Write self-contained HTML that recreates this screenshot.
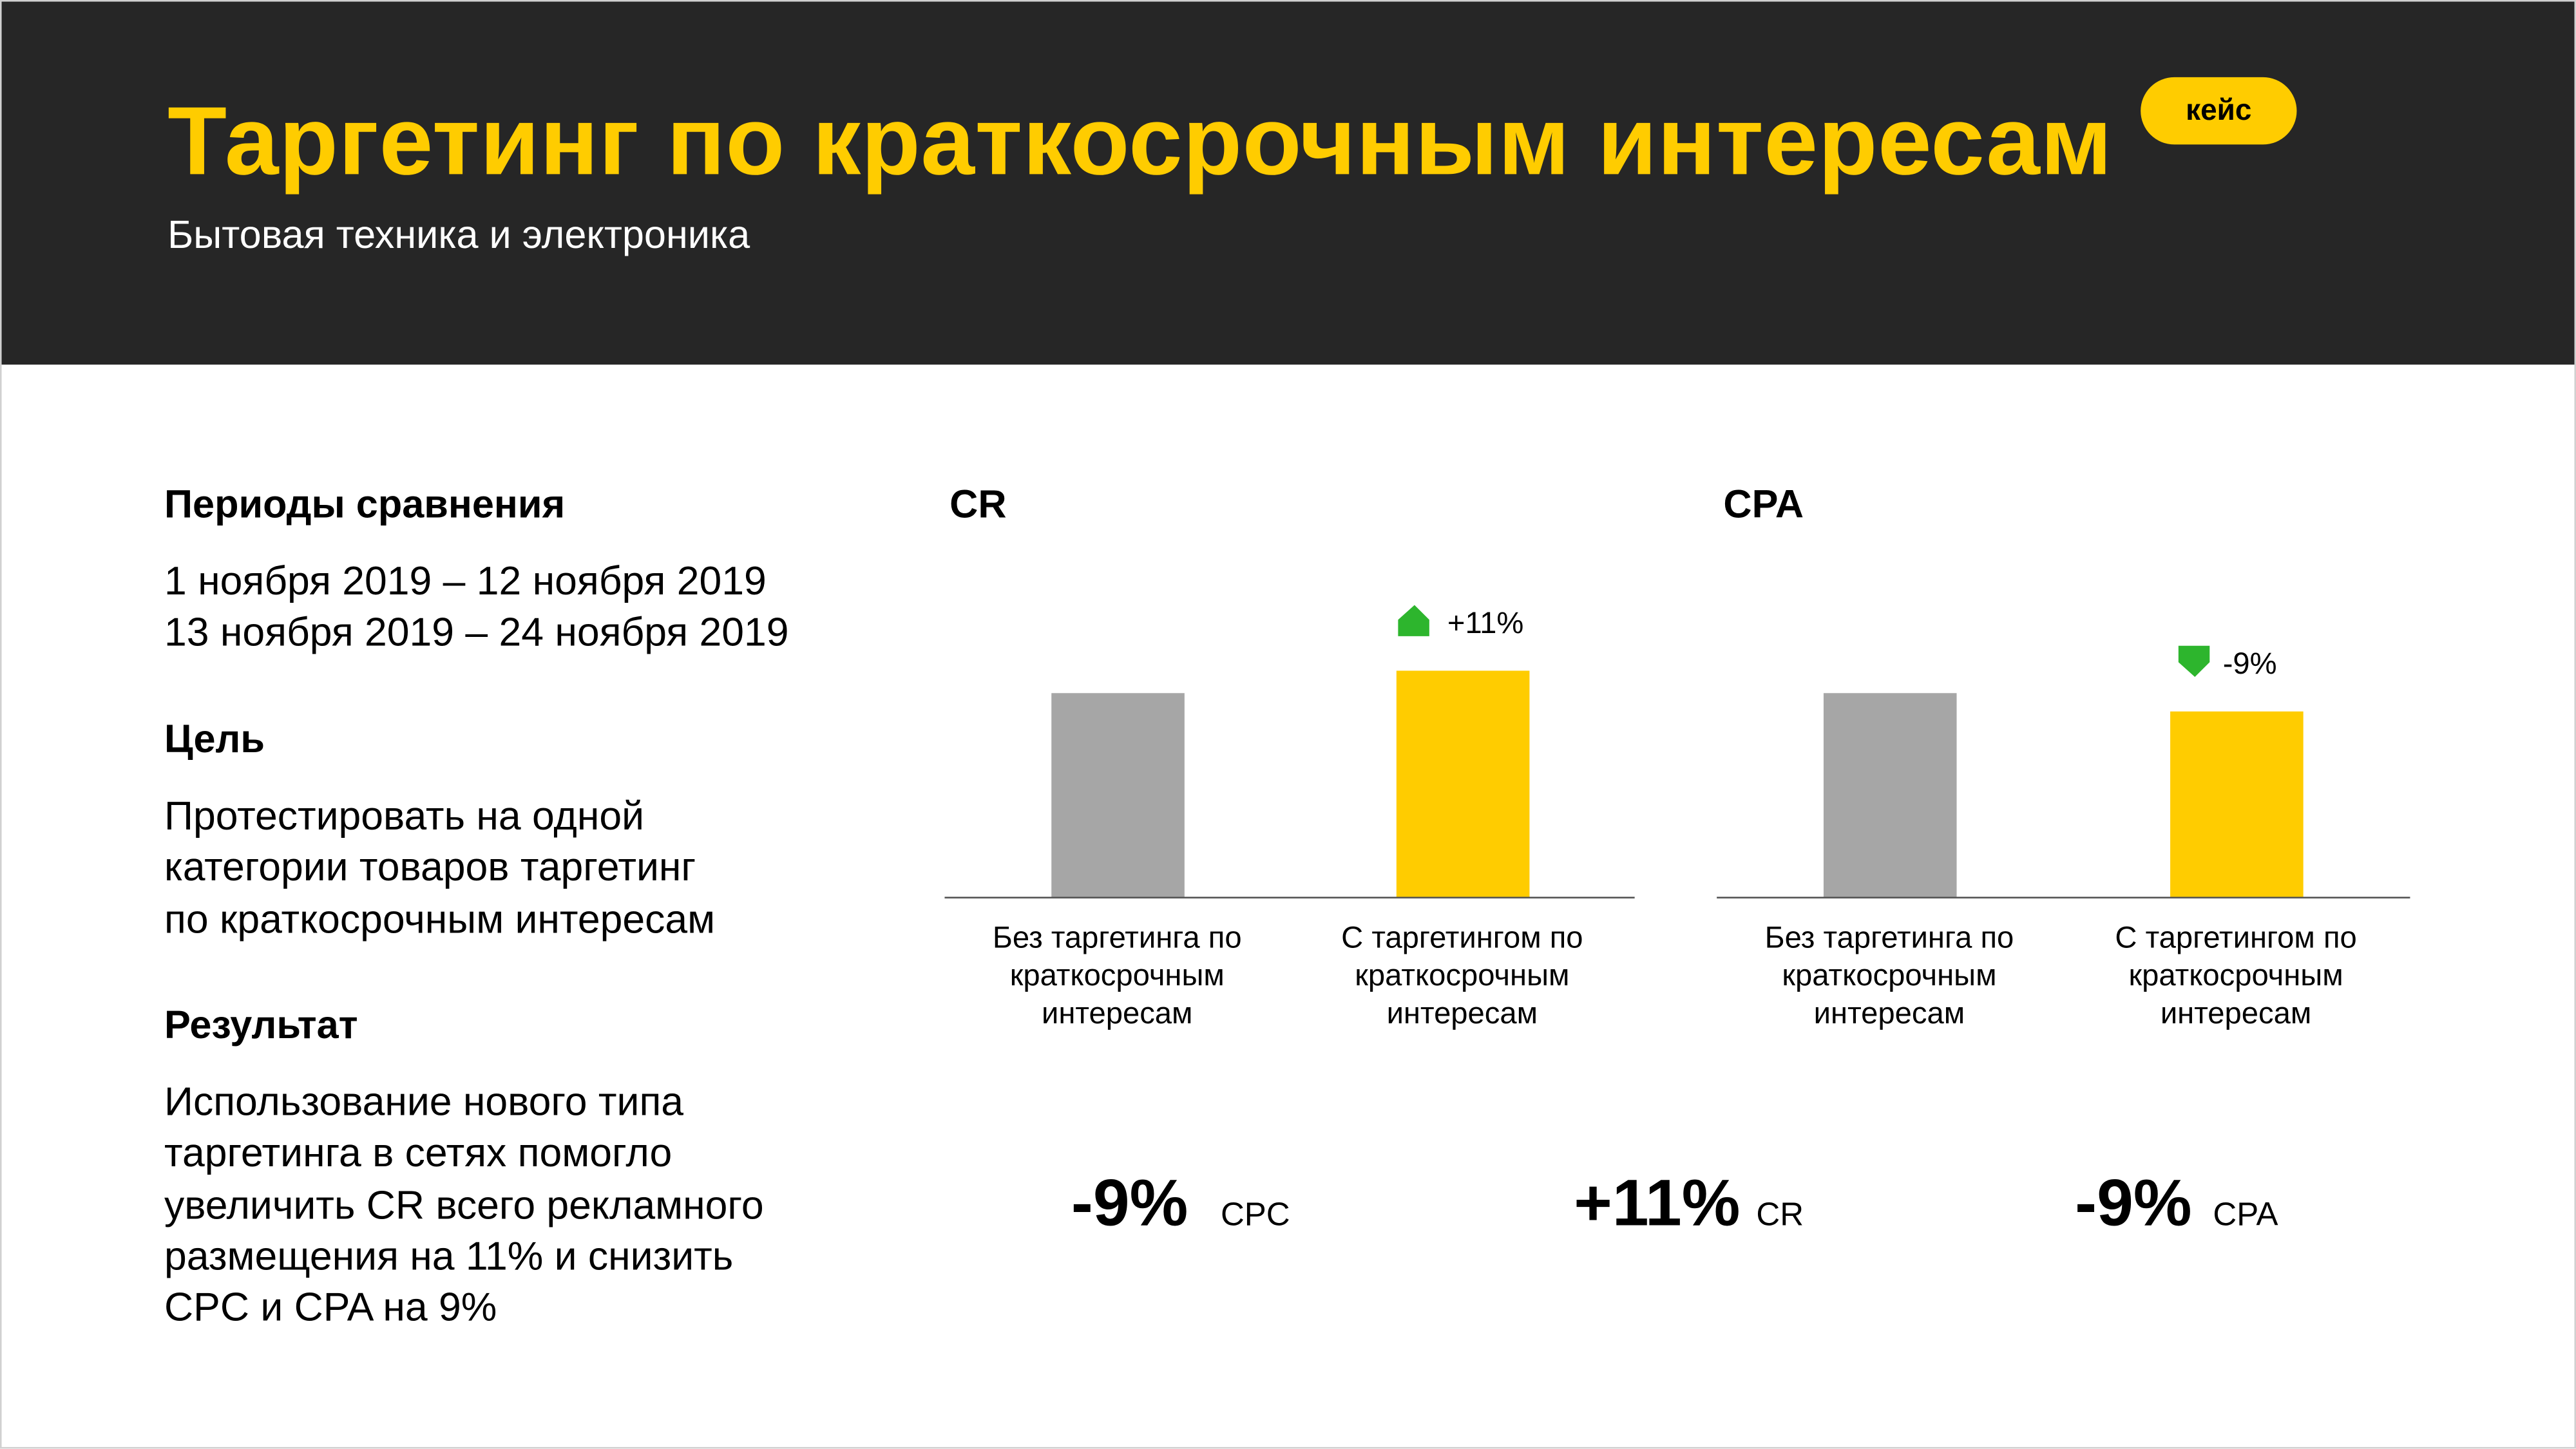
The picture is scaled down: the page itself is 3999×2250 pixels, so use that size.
<!DOCTYPE html>
<html><head><meta charset="utf-8">
<style>
html,body{margin:0;padding:0;background:#fff;}
body{width:3999px;height:2250px;overflow:hidden;position:relative;}
#wrap{position:absolute;left:0;top:0;width:1568px;height:882px;transform:scale(2.5504);transform-origin:0 0;font-family:"Liberation Sans","Noto Sans CJK SC",sans-serif;color:#000;}
.abs{position:absolute;white-space:nowrap;}
#header{position:absolute;left:0;top:0;width:1568px;height:222px;background:#262626;}
#frame{position:absolute;left:0;top:0;width:1566px;height:880px;border:1px solid #d0d0d0;}
h1{margin:0;position:absolute;left:102px;top:52px;font-size:59px;font-weight:bold;color:#ffcc00;white-space:nowrap;letter-spacing:0.2px;}
.sub{left:102px;top:130px;font-size:24px;color:#fff;}
.badge{left:1303px;top:47px;width:95px;height:41px;border-radius:21px;background:#ffcc00;font-weight:bold;font-size:18px;text-align:center;line-height:41px;}
.hd{font-weight:bold;font-size:24px;}
.tx{font-size:24.5px;line-height:31.3px;}
.cat{font-size:18.5px;line-height:23px;text-align:center;width:200px;}
.big{font-weight:bold;font-size:40px;}
.sm{font-size:20px;}
</style></head><body>
<div id="wrap">
<div id="header"></div>
<h1>Таргетинг по краткосрочным интересам</h1>
<div class="abs sub">Бытовая техника и электроника</div>
<div class="abs badge">кейс</div>

<div class="abs hd" style="left:100px;top:294px">Периоды сравнения</div>
<div class="abs tx" style="left:100px;top:339px">1 ноября 2019 – 12 ноября 2019<br>13 ноября 2019 – 24 ноября 2019</div>
<div class="abs hd" style="left:100px;top:437px">Цель</div>
<div class="abs tx" style="left:100px;top:482px">Протестировать на одной<br>категории товаров таргетинг<br>по краткосрочным интересам</div>
<div class="abs hd" style="left:100px;top:611px">Результат</div>
<div class="abs tx" style="left:100px;top:656px">Использование нового типа<br>таргетинга в сетях помогло<br>увеличить CR всего рекламного<br>размещения на 11% и снизить<br>CPC и CPA на 9%</div>

<div class="abs hd" style="left:578px;top:294px">CR</div>
<div class="abs hd" style="left:1049px;top:294px">CPA</div>

<svg id="charts" width="1568" height="882" style="position:absolute;left:0;top:0"></svg>

<div class="abs cat" style="left:580px;top:559px">Без таргетинга по<br>краткосрочным<br>интересам</div>
<div class="abs cat" style="left:790px;top:559px">С таргетингом по<br>краткосрочным<br>интересам</div>
<div class="abs cat" style="left:1050px;top:559px">Без таргетинга по<br>краткосрочным<br>интересам</div>
<div class="abs cat" style="left:1261px;top:559px">С таргетингом по<br>краткосрочным<br>интересам</div>

<div class="abs big" style="left:652px;top:711px">-9%</div>
<div class="abs sm" style="left:743px;top:729px">CPC</div>
<div class="abs big" style="left:958px;top:711px">+11%</div>
<div class="abs sm" style="left:1069px;top:729px">CR</div>
<div class="abs big" style="left:1263px;top:711px">-9%</div>
<div class="abs sm" style="left:1347px;top:729px">CPA</div>
<div id="frame"></div>
</div>
<script>
const categories = ["Без таргетинга", "С таргетингом"];
const crValues = [100, 111];
const cpaValues = [100, 91];
const crChangeLabel = "+11%";
const cpaChangeLabel = "-9%";

const NS = "http://www.w3.org/2000/svg";
const svg = document.getElementById("charts");
const baseY = 546, pxPerUnit = 1.24, barW = 81;
function yScale(v){ return baseY - v * pxPerUnit; }
function mk(tag, attrs){ const e = document.createElementNS(NS, tag); for (const k in attrs) e.setAttribute(k, attrs[k]); svg.appendChild(e); return e; }
function drawChart(prefix, values, axisX0, axisX1, barXs, changeLabel, up){
  const axis = mk("line", {x1:axisX0, x2:axisX1, y1:baseY+0.5, y2:baseY+0.5, stroke:"#555", "stroke-width":1});
  
  
  values.forEach((v, i) => {
    const y = yScale(v);
    const r = mk("rect", {x:barXs[i], y:y, width:barW, height:baseY - y, fill: i === 0 ? "#a6a6a6" : "#ffcc00"});
    
    
  });
  const last = values[values.length-1];
  const ty = yScale(last);
  const ix = barXs[1] + 1;
  const iy = ty - 40;
  let icon;
  if (up) icon = mk("polygon", {points:`${ix},${iy+19} ${ix},${iy+9} ${ix+10},${iy} ${ix+19},${iy+9} ${ix+19},${iy+19}`, fill:"#2db52d"});
  else icon = mk("polygon", {points:`${ix+4},${iy} ${ix+4},${iy+10} ${ix+14},${iy+19} ${ix+23},${iy+10} ${ix+23},${iy}`, fill:"#2db52d"});
  
  
  const t = mk("text", {x: ix + (up ? 30 : 31), y: iy + 17, "font-size":18.5, "font-family":"Liberation Sans, sans-serif", fill:"#000"});
  t.textContent = changeLabel;
  
  
}
drawChart("cr", crValues, 575, 995, [640, 850], crChangeLabel, true);
drawChart("cpa", cpaValues, 1045, 1467, [1110, 1321], cpaChangeLabel, false);
</script>
</body></html>
